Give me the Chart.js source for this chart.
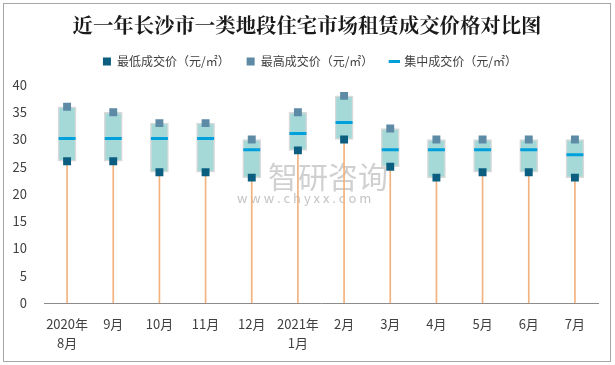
<!DOCTYPE html>
<html>
<head>
<meta charset="utf-8">
<script src="https://cdn.jsdelivr.net/npm/chart.js@4"></script>
<style>
  html, body { margin: 0; padding: 0; background: #fff; }
  #wrap { width: 615px; height: 365px; position: relative; }
</style>
</head>
<body>
<div id="wrap"><canvas id="rentChart" width="615" height="365"></canvas></div>
<script>
// Months (category axis)
const months = [['2020年', '8月'], '9月', '10月', '11月', '12月', ['2021年', '1月'], '2月', '3月', '4月', '5月', '6月', '7月'];

// Prices in 元/㎡
const minPrice = [26, 26, 24, 24, 23, 28, 30, 25, 23, 24, 24, 23];
const maxPrice = [36, 35, 33, 33, 30, 35, 38, 32, 30, 30, 30, 30];
const midPrice = [30.2, 30.2, 30.2, 30.2, 28.1, 31.1, 33.1, 28.1, 28.1, 28.1, 28.1, 27.2];

const yTicks = [0, 5, 10, 15, 20, 25, 30, 35, 40];

const FONT = "'Noto Sans CJK SC', 'Microsoft YaHei', sans-serif";

// white background, outer frame and watermark
const framePlugin = {
    id: 'frame',
    afterLayout(chart) {
        // the plot is pushed right by its padding; center title & legend on the whole picture
        if (chart.titleBlock) { chart.titleBlock.left += 8; chart.titleBlock.right += 8; }
        if (chart.legend) { chart.legend.left += 11; chart.legend.right += 11; }
    },
    beforeDraw(chart) {
        const ctx = chart.ctx;
        ctx.save();
        ctx.fillStyle = '#ffffff';
        ctx.fillRect(0, 0, chart.width, chart.height);
        ctx.strokeStyle = '#a6a6a6';
        ctx.lineWidth = 1;
        ctx.strokeRect(3.5, 3.5, 607, 358);
        // watermark
        ctx.fillStyle = 'rgba(170,170,170,0.55)';
        ctx.font = "30px " + FONT;
        ctx.textBaseline = 'middle';
        ctx.fillText('智研咨询', 268, 177);
        ctx.font = "13px " + FONT;
        ctx.fillStyle = 'rgba(170,170,170,0.7)';
        ctx.fillText('w w w . c h y x x . c o m', 237, 198);
        ctx.restore();
    }
};

const ctx = document.getElementById('rentChart').getContext('2d');

const chart = new Chart(ctx, {
    data: {
        labels: months,
        datasets: [
            {
                type: 'line',
                label: '最低成交价（元/㎡）',
                data: minPrice,
                showLine: false,
                pointStyle: 'rect',
                pointRadius: 5.6,
                pointHoverRadius: 5.6,
                pointBackgroundColor: '#0b5e80',
                pointBorderColor: '#0b5e80',
                backgroundColor: '#0b5e80',
                borderColor: '#0b5e80',
                pointBorderWidth: 0,
                order: 0
            },
            {
                type: 'line',
                label: '最高成交价（元/㎡）',
                data: maxPrice,
                showLine: false,
                pointStyle: 'rect',
                pointRadius: 5.6,
                pointHoverRadius: 5.6,
                pointBackgroundColor: '#5d8ba6',
                pointBorderColor: '#5d8ba6',
                backgroundColor: '#5d8ba6',
                borderColor: '#5d8ba6',
                pointBorderWidth: 0,
                order: 1
            },
            {
                type: 'line',
                label: '集中成交价（元/㎡）',
                data: midPrice,
                showLine: false,
                pointStyle: 'line',
                pointRadius: 8.5,
                pointHoverRadius: 8.5,
                pointBorderWidth: 3,
                pointBorderColor: '#00a0dc',
                borderColor: '#00a0dc',
                backgroundColor: '#00a0dc',
                order: 2
            },
            {
                type: 'bar',
                label: 'range',
                data: minPrice.map((v, i) => [v, maxPrice[i]]),
                backgroundColor: '#a5d9d8',
                borderColor: '#d9d9d9',
                borderWidth: 1.5,
                borderSkipped: false,
                barThickness: 18,
                grouped: false,
                order: 3
            },
            {
                type: 'bar',
                label: 'stem',
                data: minPrice.map(v => [0, v]),
                backgroundColor: '#f2b27e',
                borderWidth: 0,
                barThickness: 1,
                grouped: false,
                order: 4
            }
        ]
    },
    options: {
        responsive: false,
        animation: false,
        layout: { padding: { left: 0, right: 17, top: 0, bottom: 9 } },
        scales: {
            x: {
                offset: true,
                grid: { display: false },
                border: { display: true, color: '#8c8c8c', width: 1 },
                ticks: {
                    color: '#404040',
                    font: { family: FONT, size: 13, lineHeight: 1.5 },
                    maxRotation: 0,
                    autoSkip: false,
                    padding: 3
                }
            },
            y: {
                min: 0,
                max: 40,
                grid: { display: false },
                border: { display: false },
                afterFit: (scale) => { scale.width = 44; },
                afterBuildTicks: (scale) => { scale.ticks = yTicks.map(v => ({ value: v })); },
                ticks: {
                    color: '#404040',
                    font: { family: FONT, size: 13 },
                    padding: 9
                }
            }
        },
        plugins: {
            title: {
                display: true,
                text: '近一年长沙市一类地段住宅市场租赁成交价格对比图',
                color: '#1a1a1a',
                font: { family: "'Noto Serif CJK SC', " + FONT, size: 20.4, weight: 'bold' },
                padding: { top: 13, bottom: 1 }
            },
            legend: {
                display: true,
                position: 'top',
                labels: {
                    filter: (item) => item.datasetIndex < 3,
                    usePointStyle: true,
                    boxWidth: 8,
                    boxHeight: 8,
                    color: '#404040',
                    font: { family: FONT, size: 12 },
                    padding: 17
                }
            },
            tooltip: { enabled: false }
        }
    },
    plugins: [framePlugin]
});

// leave extra room between the legend and the plot area
const legendFit = chart.legend.fit;
chart.legend.fit = function () {
    legendFit.call(this);
    this.height += 7.5;
};
chart.update();
</script>
</body>
</html>
